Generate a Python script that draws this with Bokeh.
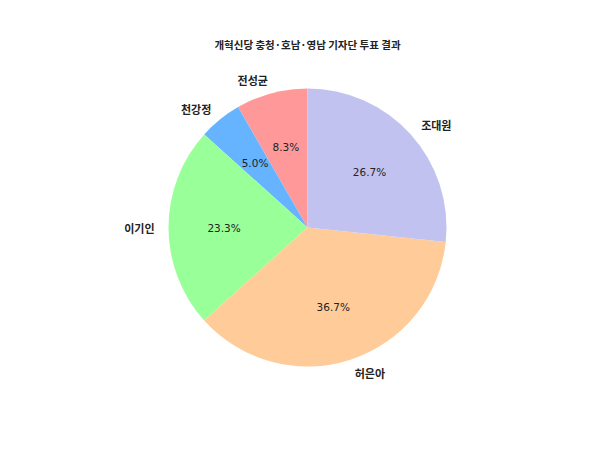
from math import pi, cos, sin

import numpy as np
from bokeh.plotting import figure
from bokeh.models import ColumnDataSource, Label
from bokeh.core.properties import value
from bokeh.embed import file_html
from bokeh.resources import INLINE

# data
title_text = "개혁신당 충청·호남·영남 기자단 투표 결과"
names = ["전성균", "천강정", "이기인", "허은아", "조대원"]
votes = [5, 3, 14, 22, 16]
colors = ["#ff9999", "#66b3ff", "#99ff99", "#ffcc99", "#c2c2f0"]

W, H = 584, 434
cx, cy, R = 307, H - 227, 139

frac = np.array(votes) / sum(votes)
ends = pi / 2 + 2 * pi * np.cumsum(frac)
starts = ends - 2 * pi * frac
mids = (starts + ends) / 2

src = ColumnDataSource(dict(
    start=starts, end=ends, color=colors,
    px=[cx + 0.6 * R * cos(a) for a in mids],
    py=[cy + 0.6 * R * sin(a) for a in mids],
    pct=["%.1f%%" % (f * 100) for f in frac],
))

p = figure(width=W, height=H, x_range=(0, W), y_range=(0, H),
           output_backend="svg", toolbar_location=None, min_border=0)
p.axis.visible = False
p.grid.visible = False
p.outline_line_color = None

p.wedge(x=cx, y=cy, radius=R, start_angle="start", end_angle="end",
        fill_color="color", line_color=None, source=src)

p.text(x="px", y="py", text="pct", source=src, text_align="center",
       text_baseline="middle", text_font=value("DejaVu Sans"),
       text_font_size="10.5px", text_color="#222222")

# slice labels, right-aligned on the left side, left-aligned on the right
for name, a in zip(names, mids):
    lx = cx + 1.1 * R * cos(a)
    ly = cy + 1.1 * R * sin(a)
    p.add_layout(Label(x=lx, y=ly, text=name,
                       text_align="left" if cos(a) > 0 else "right",
                       text_baseline="middle", text_font="Noto Sans CJK KR",
                       text_font_size="11px", text_font_style="bold",
                       text_color="#222222"))

p.add_layout(Label(x=cx, y=H - 44, text=title_text, text_align="center",
                   text_baseline="middle", text_font="Noto Sans CJK KR",
                   text_font_size="10.5px", text_font_style="bold",
                   text_color="#222222"))

open("out.html", "w").write(file_html(p, INLINE))
